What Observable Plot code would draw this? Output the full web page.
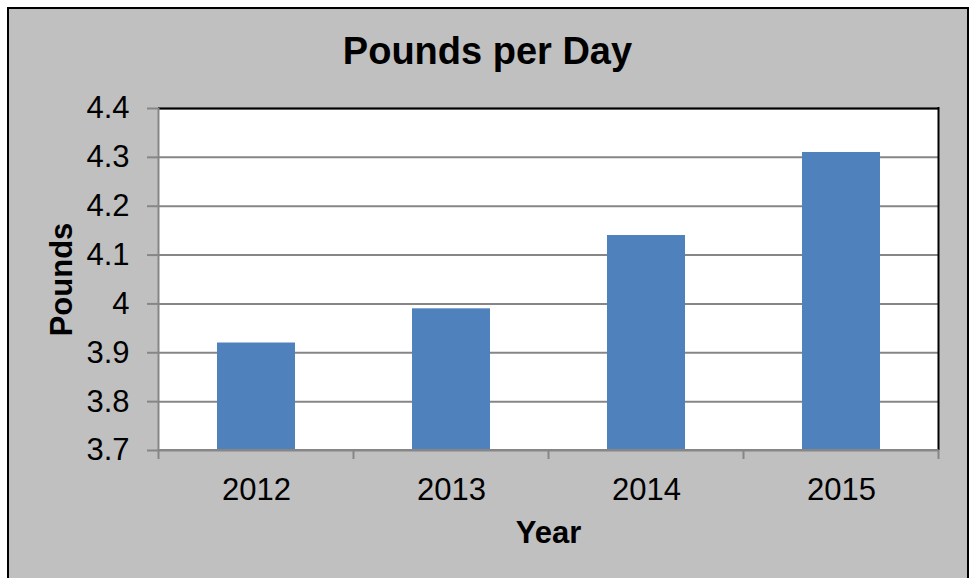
<!DOCTYPE html>
<html><head><meta charset="utf-8">
<script src="https://cdn.jsdelivr.net/npm/d3@7"></script>
<script src="https://cdn.jsdelivr.net/npm/@observablehq/plot@0.6"></script>
<style>
body{margin:0;background:#fff;}
#wrap{position:relative;width:973px;height:578px;overflow:hidden;font-family:"Liberation Sans",Arial,sans-serif;}
#frame{position:absolute;left:7px;top:7px;width:958px;height:620px;background:#c0c0c0;border:2px solid #000;}
#title{position:absolute;left:9px;width:957px;top:32px;line-height:38px;font-size:38px;font-weight:bold;text-align:center;color:#000;}
#chart{position:absolute;left:0;top:0;}
</style></head>
<body><div id="wrap"><div id="frame"></div><div id="title">Pounds per Day</div><div id="chart"></div></div>
<script>
const years = ["2012", "2013", "2014", "2015"];
const pounds = [3.92, 3.99, 4.14, 4.31];
const yTicks = [3.7, 3.8, 3.9, 4.0, 4.1, 4.2, 4.3, 4.4];
const yTickLabels = ["3.7", "3.8", "3.9", "4", "4.1", "4.2", "4.3", "4.4"];
const xTitle = "Year";
const yTitle = "Pounds";

const data = years.map((y, i) => ({year: y, value: pounds[i]}));
const yMin = yTicks[0], yMax = yTicks[yTicks.length - 1];
const GRID = "#868686";
const FONT = "'Liberation Sans', Arial, sans-serif";

const chart = Plot.plot({
  width: 973,
  height: 578,
  marginLeft: 158,
  marginRight: 35,
  marginTop: 108,
  marginBottom: 128,
  style: {background: "transparent", fontFamily: FONT, fontSize: "31px", color: "#000", overflow: "visible"},
  x: {domain: years, paddingInner: 0.6, paddingOuter: 0.3, axis: null},
  y: {domain: [yMin, yMax], axis: null},
  marks: [
    Plot.frame({fill: "#fff", stroke: null}),
    Plot.ruleY(yTicks, {stroke: GRID, strokeWidth: 2}),
    Plot.barY(data, {x: "year", y1: yMin, y2: "value", fill: "#4f81bd"}),
    Plot.ruleY([yMax], {stroke: "#000", strokeWidth: 2}),
    Plot.axisY({ticks: yTicks, tickFormat: (d, i) => yTickLabels[i], tickSize: 11, tickPadding: 18,
      stroke: GRID, strokeWidth: 2, fill: "#000", fontSize: 31, label: null}),
    Plot.axisX({tickSize: 0, tickPadding: 27, fill: "#000", fontSize: 31, label: null}),
    Plot.text([yTitle], {frameAnchor: "left", textAnchor: "middle", lineAnchor: "middle", rotate: -90, dx: -96, fontSize: 31, fontWeight: "bold", fill: "#000"}),
    Plot.text([xTitle], {frameAnchor: "bottom", textAnchor: "middle", lineAnchor: "middle", dy: 83, fontSize: 31, fontWeight: "bold", fill: "#000"})
  ]
});
document.getElementById("chart").appendChild(chart);

// category boundary ticks, left axis line, right frame edge — from the plot's own scales
const sx = chart.scale("x"), sy = chart.scale("y");
const step = sx.step ?? (sx.range[1] - sx.range[0]) / years.length;
const bw = sx.bandwidth;
const gap = (step - bw) / 2;
const bounds = years.map(v => sx.apply(v) - gap);
bounds.push(sx.apply(years[years.length - 1]) + bw + gap);
const y0 = sy.apply(yMin), y1 = sy.apply(yMax);
const g = d3.select(chart).append("g");
g.append("line").attr("x1", bounds[bounds.length - 1]).attr("x2", bounds[bounds.length - 1])
  .attr("y1", y1 - 1).attr("y2", y0).attr("stroke", "#000").attr("stroke-width", 2);
g.append("line").attr("x1", bounds[0]).attr("x2", bounds[0]).attr("y1", y1).attr("y2", y0)
  .attr("stroke", GRID).attr("stroke-width", 2);
g.append("line").attr("x1", bounds[0] - 1).attr("x2", bounds[bounds.length - 1]).attr("y1", y0).attr("y2", y0)
  .attr("stroke", GRID).attr("stroke-width", 2);
g.selectAll("line.tk").data(bounds).join("line").attr("class", "tk")
  .attr("x1", d => d).attr("x2", d => d).attr("y1", y0).attr("y2", y0 + 9)
  .attr("stroke", GRID).attr("stroke-width", 2);
</script>
</body></html>
